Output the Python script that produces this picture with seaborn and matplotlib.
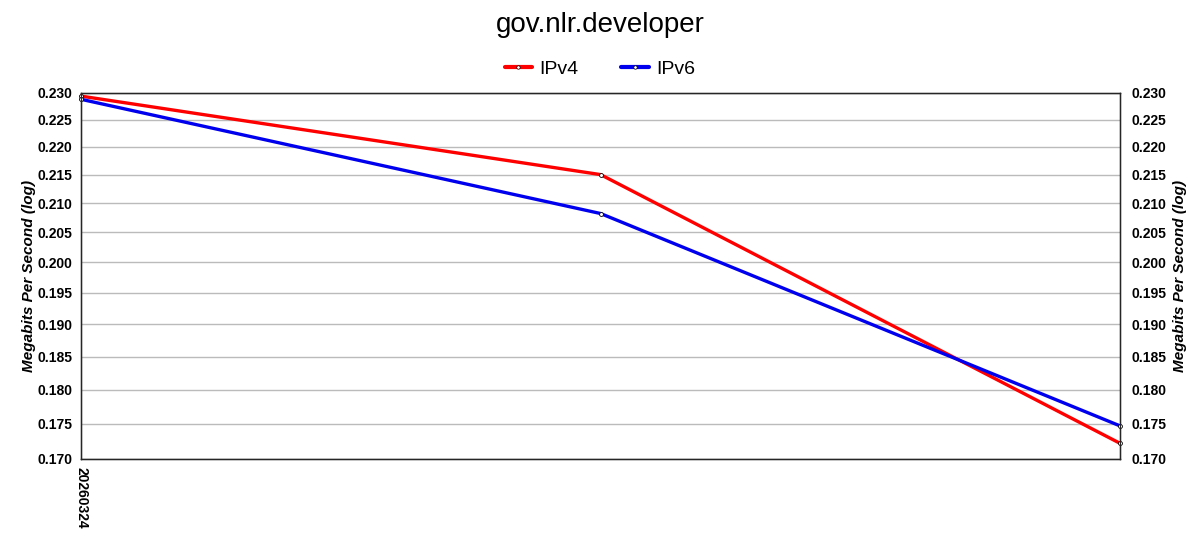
import matplotlib
matplotlib.use("Agg")
import matplotlib.pyplot as plt
import matplotlib.ticker as mticker
import seaborn as sns
import pandas as pd

# data
x_pos = [0, 1, 2]
x_labels = ["20260324", "", ""]
ipv4 = [0.2294, 0.2150, 0.1722]
ipv6 = [0.2288, 0.2082, 0.1747]
y_ticks = [0.170, 0.175, 0.180, 0.185, 0.190, 0.195, 0.200,
           0.205, 0.210, 0.215, 0.220, 0.225, 0.230]

df = pd.DataFrame({
    "x": x_pos * 2,
    "value": ipv4 + ipv6,
    "series": ["IPv4"] * 3 + ["IPv6"] * 3,
})

sns.set_style("white")
plt.rcParams["font.family"] = ["Liberation Sans", "DejaVu Sans"]
plt.rcParams["text.color"] = "black"
plt.rcParams["xtick.color"] = "black"
plt.rcParams["ytick.color"] = "black"
plt.rcParams["axes.labelcolor"] = "black"

fig = plt.figure(figsize=(12, 5.5), dpi=100)
ax = fig.add_axes([0.0675, 0.1655, 0.866, 0.6655])

sns.lineplot(data=df, x="x", y="value", hue="series",
             palette={"IPv4": "#ff0000", "IPv6": "#0000ee"},
             linewidth=2.4, marker="o", markersize=2.8,
             markerfacecolor="white", markeredgecolor="black",
             markeredgewidth=0.6, ax=ax, legend=False, zorder=3, clip_on=False)

ax.set_yscale("log")
ax.set_ylim(0.170, 0.230)
ax.set_xlim(0, 2)
ax.yaxis.set_major_locator(mticker.FixedLocator(y_ticks))
ax.yaxis.set_major_formatter(mticker.FixedFormatter([f"{v:.3f}" for v in y_ticks]))
ax.yaxis.set_minor_locator(mticker.NullLocator())
ax.set_xticks(x_pos)
ax.set_xticklabels(x_labels, rotation=-90, fontweight="bold", fontsize=10)
ax.grid(axis="y", color="#bbbbbb", linewidth=1)
ax.axvline(0, color="#bbbbbb", linewidth=1.5, zorder=1)
ax.tick_params(axis="both", length=0, pad=6)
for lbl in ax.get_yticklabels():
    lbl.set_fontweight("bold")
    lbl.set_fontsize(10)
ax.set_xlabel("")
ax.set_ylabel("Megabits Per Second (log)", fontsize=11, fontweight="bold",
              fontstyle="italic", labelpad=1)
for s in ax.spines.values():
    s.set_color("black")
    s.set_linewidth(1)

ax2 = ax.twinx()
ax2.set_yscale("log")
ax2.set_ylim(0.170, 0.230)
ax2.yaxis.set_major_locator(mticker.FixedLocator(y_ticks))
ax2.yaxis.set_major_formatter(mticker.FixedFormatter([f"{v:.3f}" for v in y_ticks]))
ax2.yaxis.set_minor_locator(mticker.NullLocator())
ax2.tick_params(axis="y", length=0, pad=8)
for lbl in ax2.get_yticklabels():
    lbl.set_fontweight("bold")
    lbl.set_fontsize(10)
ax2.set_ylabel("Megabits Per Second (log)", fontsize=11, fontweight="bold",
               fontstyle="italic", labelpad=5)

# legend
handles = [plt.Line2D([], [], color=c, linewidth=3, marker="o", markersize=2.5,
                      markerfacecolor="white", markeredgecolor="black",
                      markeredgewidth=0.5)
           for c in ["#ff0000", "#0000ee"]]
fig.legend(handles, ["IPv4", "IPv6"], loc="center", bbox_to_anchor=(0.5, 0.875),
           ncol=2, frameon=False, fontsize=14, handlelength=1.4,
           columnspacing=2.2, handletextpad=0.4)

fig.suptitle("gov.nlr.developer", fontsize=20, y=0.978)

fig.savefig("out.png", dpi=100)
